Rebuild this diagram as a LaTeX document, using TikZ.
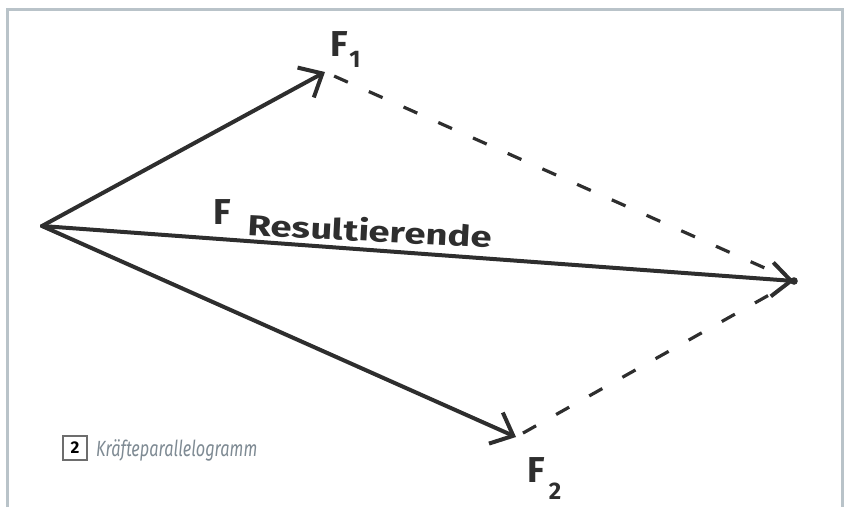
\documentclass[tikz,border=0pt]{standalone}
\usepackage{fontspec}
\setmainfont{Fira Sans}
\newfontfamily\capfont[FakeStretch=0.74]{Fira Sans}
\newfontfamily\handfont{Fira Sans}
\usetikzlibrary{arrows.meta}
\definecolor{framegray}{HTML}{B9C3C9}
\definecolor{ink}{HTML}{2E2E2E}
\definecolor{capgray}{HTML}{7E8A93}
\tikzset{
  force/.style={line width=4pt, draw=ink, line cap=round, -{Straight Barb[length=19pt,width=34pt,line width=4pt]}},
  dashline/.style={line width=3.2pt, draw=ink, dash pattern=on 15pt off 23pt},
  hand/.style={text=ink, font=\handfont\bfseries\fontsize{36}{40}\selectfont, inner sep=0pt},
  sub/.style={text=ink, font=\handfont\bfseries\fontsize{24}{26}\selectfont, inner sep=0pt},
  word/.style={text=ink, font=\handfont\bfseries\fontsize{29}{32}\selectfont, inner sep=0pt},
}
\begin{document}
\begin{tikzpicture}[x=1pt,y=-1pt]
\useasboundingbox (0,0) rectangle (846,507);
\draw[framegray, line width=3pt] (7,507) -- (7,9) -- (842,9) -- (842,507);
\coordinate (O) at (42,226);
\coordinate (F1) at (325,72);
\coordinate (R) at (794,281);
\coordinate (F2) at (516,437);
\draw[force] (O) -- (F1);
\draw[force] (O) -- (R);
\draw[force] (O) -- (F2);
\draw[dashline, shorten <=10pt, shorten >=20pt] (F1) -- (R);
\draw[dashline, shorten <=8pt, shorten >=14pt] (F2) -- (R);
\fill[ink] (R) circle (3.8pt);
\node[hand] (lF1) at (339,44) {F};
\node[sub] (s1) at (355,59) {1};
\node[hand] (lF2) at (536,470) {F};
\node[sub] (s2) at (555,491) {2};
\node[hand] (lF) at (222,212) {F};
\node[word, rotate=-3, xscale=1.32] (lR) at (370,230) {Resultierende};
\node[draw=ink!70, line width=1.3pt, minimum width=24pt, minimum height=24pt, inner sep=0pt, font=\bfseries\fontsize{17}{17}\selectfont] (num) at (75,448) {2};
\node[anchor=west, text=capgray, inner sep=0pt, font=\capfont\itshape\fontsize{22}{22}\selectfont] (cap) at (96,450) {Kräfteparallelogramm};
\end{tikzpicture}
\end{document}
